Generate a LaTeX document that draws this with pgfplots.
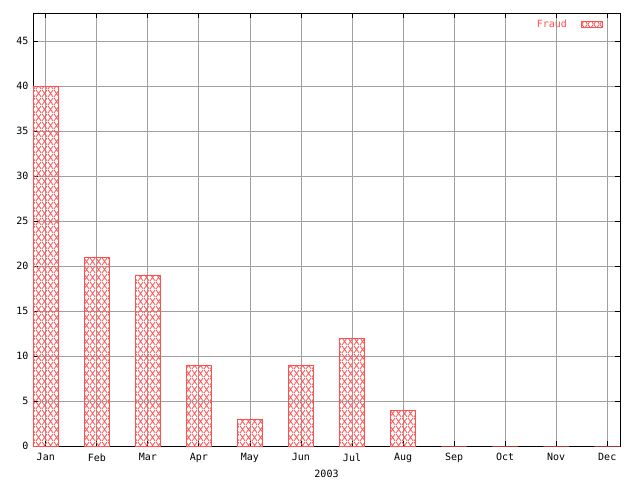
\documentclass[border=0pt]{standalone}
\usepackage{pgfplots}
\pgfplotsset{compat=1.18}
\usetikzlibrary{patterns}
\usepackage{fontspec}
\setmonofont{DejaVu Sans Mono}
\definecolor{gpred}{RGB}{255,80,80}
\definecolor{gpgrid}{RGB}{160,160,160}
\pgfdeclarepatternformonly{gpcross}{\pgfpointorigin}{\pgfpoint{6pt}{8pt}}{\pgfpoint{6pt}{8pt}}{%
  \pgfsetlinewidth{0.9pt}%
  \pgfpathmoveto{\pgfpoint{0pt}{0pt}}\pgfpathlineto{\pgfpoint{6pt}{8pt}}%
  \pgfpathmoveto{\pgfpoint{0pt}{8pt}}\pgfpathlineto{\pgfpoint{6pt}{0pt}}%
  \pgfusepath{stroke}}
\begin{document}
\begin{tikzpicture}[x=1pt,y=1pt]
\useasboundingbox (0,0) rectangle (640,480);
\begin{axis}[
  at={(33pt,34pt)}, anchor=south west,
  scale only axis, width=587pt, height=433pt,
  ybar, bar width=0.5,
  xmin=-0.25, xmax=11.25, ymin=0, ymax=48.1,
  xtick={0,...,11},
  xticklabels={Jan,Feb,Mar,Apr,May,Jun,Jul,Aug,Sep,Oct,Nov,Dec},
  ytick={0,5,...,45},
  grid=major,
  grid style={gpgrid, line width=0.8pt},
  axis line style={black, line width=0.8pt},
  major tick length=5pt,
  tick style={black, line width=0.8pt},
  tick align=inside,
  /pgf/number format/assume math mode=true,
  ticklabel style={font=\ttfamily\fontsize{10}{11}\selectfont},
  xticklabel style={yshift=-4pt},
  yticklabel style={xshift=-1pt},
  xlabel={2003},
  xlabel style={font=\ttfamily\fontsize{10}{11}\selectfont, yshift=0pt},
  legend plot pos=right,
  legend style={draw=none, fill=none, at={(1,1)}, anchor=north east,
    xshift=-14pt, yshift=-3pt,
    font=\ttfamily\fontsize{10}{11}\selectfont, text=gpred},
  legend image code/.code={\path (0pt,0pt); \draw[#1] (12pt,-3pt) rectangle (33pt,3pt);},
]
\addplot[draw=gpred, line width=0.8pt, pattern=gpcross, pattern color=gpred]
  coordinates {(0,40) (1,21) (2,19) (3,9) (4,3) (5,9) (6,12) (7,4) (8,0) (9,0) (10,0) (11,0)};
\addlegendentry{Fraud}
\end{axis}
\end{tikzpicture}
\end{document}
